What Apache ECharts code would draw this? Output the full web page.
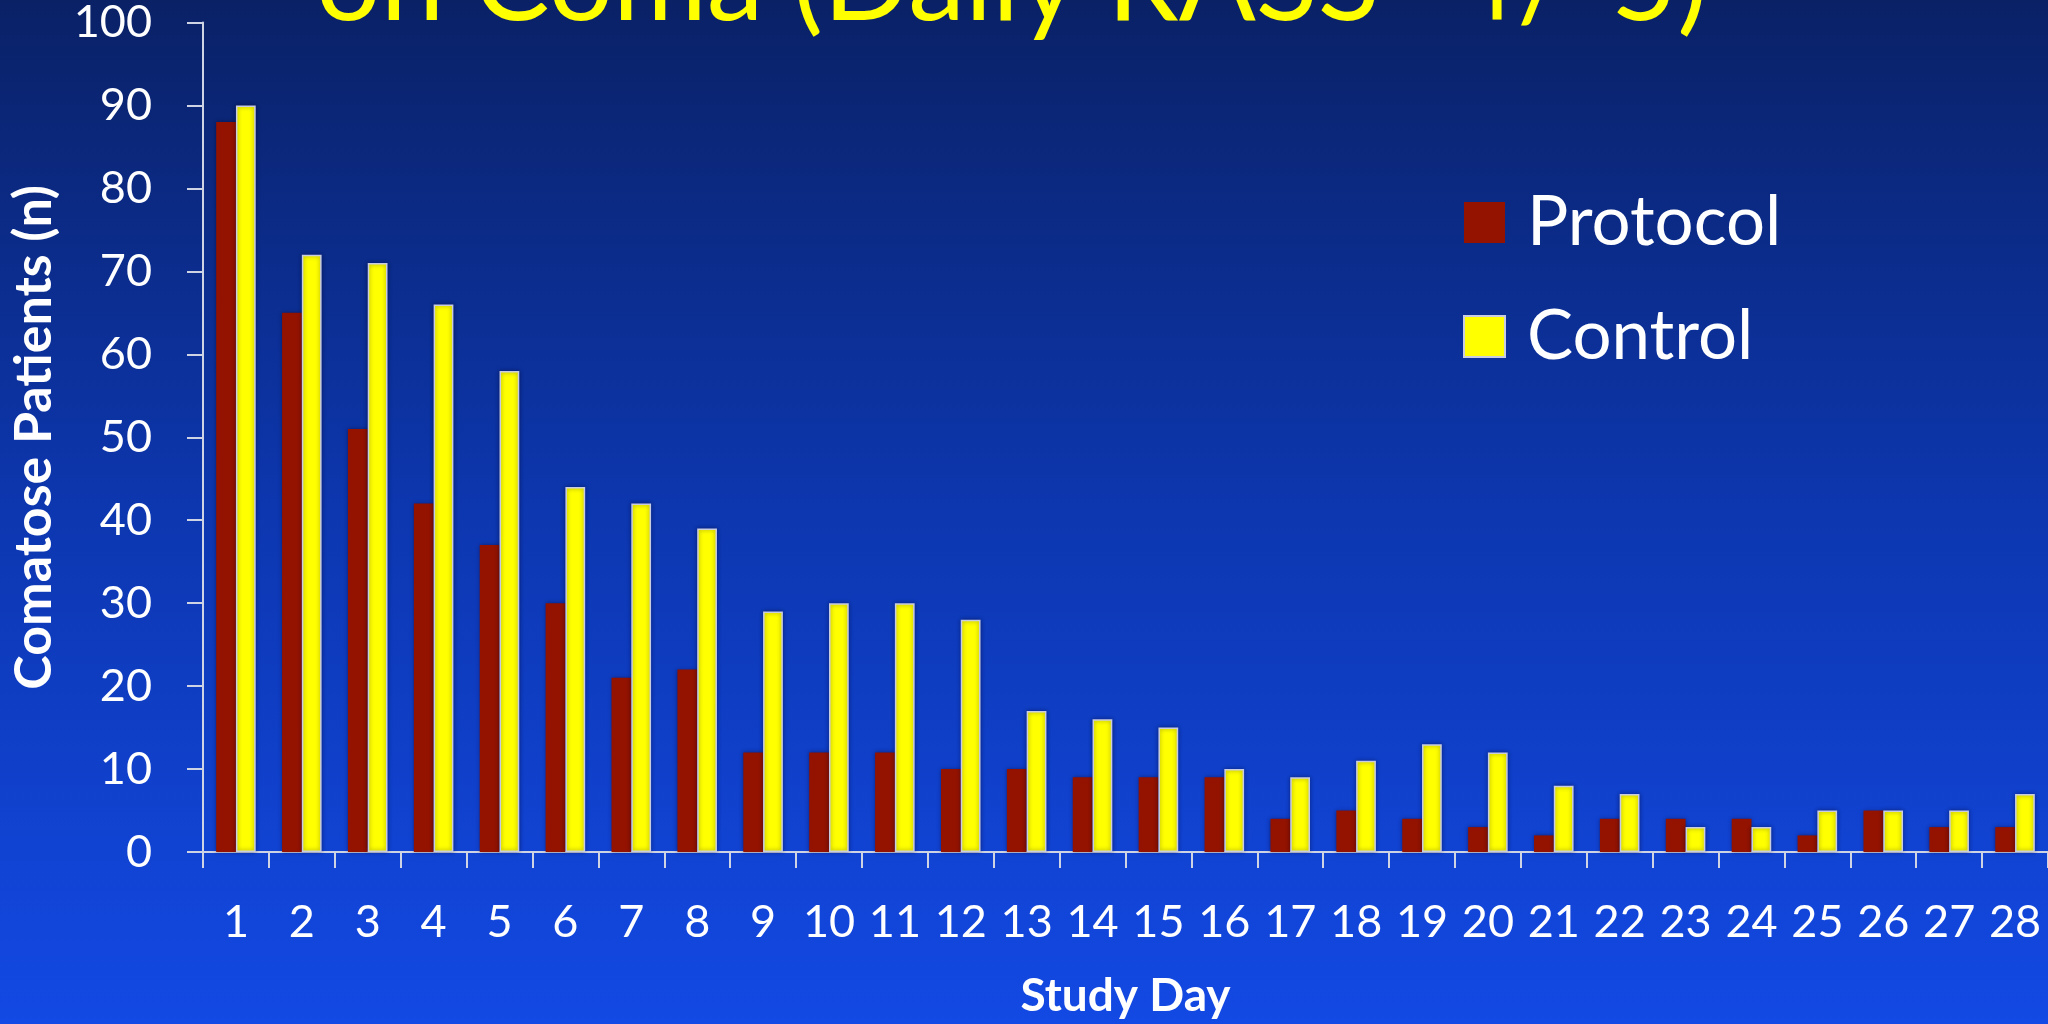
<!DOCTYPE html>
<html>
<head>
<meta charset="utf-8">
<title>Comatose Patients by Study Day</title>
<script src="https://cdn.jsdelivr.net/npm/echarts@6/dist/echarts.min.js"></script>
<style>
  html, body { margin: 0; padding: 0; background: #0d37b0; }
  #chart { width: 2048px; height: 1024px; }
</style>
</head>
<body>
<div id="chart"></div>
<script>
// Study days 1..28
const days = ['1','2','3','4','5','6','7','8','9','10','11','12','13','14',
              '15','16','17','18','19','20','21','22','23','24','25','26','27','28'];

// Number of comatose patients per day (daily RASS -4/-5)
const protocolPatients = [88, 65, 51, 42, 37, 30, 21, 22, 12, 12, 12, 10, 10, 9,
                          9, 9, 4, 5, 4, 3, 2, 4, 4, 4, 2, 5, 3, 3];
const controlPatients  = [90, 72, 71, 66, 58, 44, 42, 39, 29, 30, 30, 28, 17, 16,
                          15, 10, 9, 11, 13, 12, 8, 7, 3, 3, 5, 5, 5, 7];

// Value axis ticks
const yTicks = [0, 10, 20, 30, 40, 50, 60, 70, 80, 90, 100];

const FONT = 'Lato, "Open Sans", "Noto Sans", sans-serif';
const axisColor = '#cfd4e4';

const chart = echarts.init(document.getElementById('chart'), null, { renderer: 'canvas' });

chart.setOption({
  backgroundColor: {
    type: 'linear', x: 0, y: 0, x2: 0, y2: 1,
    colorStops: [
      { offset: 0, color: '#0a2166' },
      { offset: 0.5, color: '#0d37b0' },
      { offset: 1, color: '#1349e4' }
    ]
  },
  animation: false,
  title: {
    text: 'on Coma (Daily RASS -4/-5)',
    left: 316,
    top: -74,
    padding: 0,
    textStyle: {
      color: '#ffff00',
      fontFamily: FONT,
      fontWeight: 'normal',
      fontSize: 114,
      lineHeight: 114
    }
  },
  legend: {
    orient: 'vertical',
    left: 1463,
    top: 188,
    padding: 0,
    itemWidth: 41,
    itemHeight: 41,
    itemGap: 45,
    icon: 'rect',
    data: ['Protocol', 'Control'],
    textStyle: {
      color: '#ffffff',
      fontFamily: FONT,
      fontSize: 69,
      lineHeight: 41,
      padding: [0, 0, 0, 17]
    }
  },
  grid: {
    left: 202,
    right: 0,
    top: 22,
    bottom: 170,
    containLabel: false
  },
  xAxis: {
    type: 'category',
    data: days,
    name: 'Study Day',
    nameLocation: 'middle',
    nameGap: 121,
    nameTextStyle: {
      color: '#ffffff',
      fontFamily: FONT,
      fontWeight: 'bold',
      fontSize: 46
    },
    axisLine: { show: true, lineStyle: { color: axisColor, width: 2 } },
    axisTick: { show: true, length: 16, lineStyle: { color: axisColor, width: 2 } },
    axisLabel: {
      color: '#ffffff',
      fontFamily: FONT,
      fontSize: 45,
      margin: 48,
      interval: 0
    },
    splitLine: { show: false }
  },
  yAxis: {
    type: 'value',
    min: yTicks[0],
    max: yTicks[yTicks.length - 1],
    interval: yTicks[1] - yTicks[0],
    name: 'Comatose Patients (n)',
    nameLocation: 'middle',
    nameGap: 143,
    nameRotate: 90,
    nameTextStyle: {
      color: '#ffffff',
      fontFamily: FONT,
      fontWeight: 'bold',
      fontSize: 52
    },
    axisLine: { show: true, lineStyle: { color: axisColor, width: 2 } },
    axisTick: { show: true, length: 16, lineStyle: { color: axisColor, width: 2 } },
    axisLabel: {
      color: '#ffffff',
      fontFamily: FONT,
      fontSize: 45,
      margin: 51
    },
    splitLine: { show: false }
  },
  series: [
    {
      name: 'Protocol',
      type: 'bar',
      data: protocolPatients,
      barGap: '0%',
      barCategoryGap: '40%',
      itemStyle: {
        color: '#931300',
        shadowBlur: 4,
        shadowColor: 'rgba(0, 0, 40, 0.45)'
      }
    },
    {
      name: 'Control',
      type: 'bar',
      data: controlPatients,
      barGap: '0%',
      barCategoryGap: '40%',
      itemStyle: {
        color: '#ffff00',
        borderColor: '#c9cde2',
        borderWidth: 1.5,
        shadowBlur: 4,
        shadowColor: 'rgba(0, 0, 40, 0.45)'
      }
    }
  ]
});
</script>
</body>
</html>
